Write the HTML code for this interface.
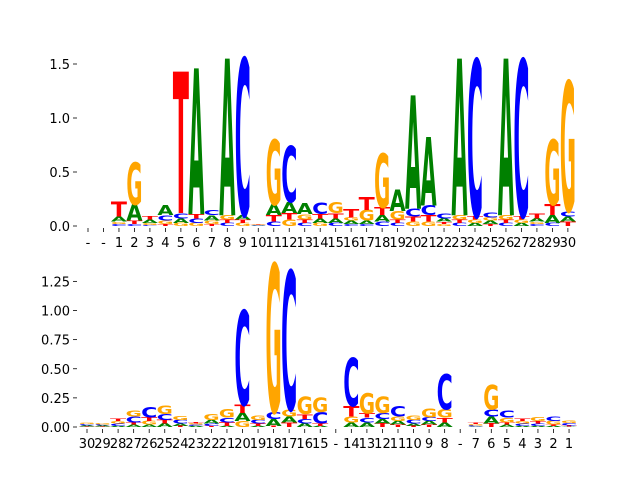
<!DOCTYPE html>
<html><head><meta charset="utf-8"><style>
body{margin:0;background:#fff;}
svg{display:block;font-family:"DejaVu Sans","Liberation Sans",sans-serif;}
</style></head><body>
<svg id="chart" width="640" height="480" viewBox="0 0 640 480">
<g id="top"></g>
<g id="bot"></g>
</svg>
<script>
// ---- Top panel data ----
const topLabels = ["-","-","1","2","3","4","5","6","7","8","9","10","11","12","13","14","15","16","17","18","19","20","21","22","23","24","25","26","27","28","29","30"];
const topA = [0,0,.05,.15,.03,.09,.04,1.35,.05,1.45,.04,.005,.10,.10,.10,.04,.04,.03,.03,.06,.20,1.05,.63,.03,1.45,.03,.03,1.45,.03,.03,.07,.05];
const topC = [0,0,.02,.02,.01,.05,.05,.04,.05,.03,1.45,.005,.04,.52,.03,.11,.03,.02,.02,.04,.03,.07,.09,.05,.03,1.45,.05,.03,1.45,.02,.03,.05];
const topG = [0,0,.02,.39,.02,.03,.03,.03,.03,.04,.03,.005,.60,.06,.05,.03,.10,.03,.10,.50,.08,.04,.04,.02,.04,.03,.03,.04,.03,.02,.60,1.20];
const topT = [0,0,.14,.03,.03,.02,1.31,.04,.02,.03,.03,.005,.06,.06,.03,.04,.05,.08,.12,.07,.03,.05,.06,.02,.03,.03,.02,.03,.03,.05,.10,.04];
const topTicks = [0,0.5,1.0,1.5];
const topTickLabels = ["0.0","0.5","1.0","1.5"];
// ---- Bottom panel data ----
const botLabels = ["30","29","28","27","26","25","24","23","22","21","20","19","18","17","16","15","-","14","13","12","11","10","9","8","-","7","6","5","4","3","2","1"];
const botA = [.01,.008,.01,.02,.02,.03,.02,.01,.03,.01,.07,.01,.06,.05,.03,.01,0,.04,.04,.04,.03,.02,.03,.04,0,.005,.06,.02,.01,.01,.01,.005];
const botC = [.01,.008,.02,.05,.09,.05,.03,.01,.02,.04,.81,.03,.06,1.19,.04,.10,0,.41,.04,.05,.09,.03,.03,.30,0,.01,.06,.06,.02,.02,.04,.02];
const botG = [.01,.008,.02,.05,.03,.07,.03,.01,.05,.07,.05,.04,1.27,.06,.15,.12,0,.05,.17,.14,.04,.04,.08,.07,0,.01,.21,.04,.02,.03,.03,.02];
const botT = [.005,.006,.02,.02,.03,.03,.01,.01,.01,.03,.07,.02,.01,.04,.04,.02,0,.09,.04,.03,.02,.01,.02,.04,0,.01,.03,.02,.02,.02,.01,.01];
const botTicks = [0,0.25,0.5,0.75,1.0,1.25];
const botTickLabels = ["0.00","0.25","0.50","0.75","1.00","1.25"];

const NS="http://www.w3.org/2000/svg";
const colors={A:"#008000",C:"#0000ff",G:"#ffa500",T:"#ff0000"};
const CAP=72.9;

function panel(g,labels,A,C,G,T,ticks,tickLabels,x0,dx,base,scale){
  const xs=i=>x0+i*dx;
  const ys=v=>base-v*scale;
  ticks.forEach((t,k)=>{
    const l=document.createElementNS(NS,"line");
    
    
    l.setAttribute("x1",73);l.setAttribute("x2",77);l.setAttribute("y1",ys(t));l.setAttribute("y2",ys(t));
    l.setAttribute("stroke","#000");l.setAttribute("stroke-width","0.8");g.appendChild(l);
    const tx=document.createElementNS(NS,"text");
    
    
    tx.setAttribute("x",70);tx.setAttribute("y",ys(t)+5);tx.setAttribute("text-anchor","end");
    tx.setAttribute("font-size","13");tx.textContent=tickLabels[k];g.appendChild(tx);
  });
  labels.forEach((lab,i)=>{
    const x=xs(i);
    const l=document.createElementNS(NS,"line");
    
    
    l.setAttribute("x1",x);l.setAttribute("x2",x);l.setAttribute("y1",base+2);l.setAttribute("y2",base+6);
    l.setAttribute("stroke","#000");l.setAttribute("stroke-width","0.8");g.appendChild(l);
    const tx=document.createElementNS(NS,"text");
    
    
    tx.setAttribute("x",x);tx.setAttribute("y",base+21);tx.setAttribute("text-anchor","middle");
    tx.setAttribute("font-size","13");tx.textContent=lab;g.appendChild(tx);
    const stack=[["A",A[i]],["C",C[i]],["G",G[i]],["T",T[i]]].filter(s=>s[1]>0).sort((a,b)=>a[1]-b[1]);
    let cum=0;
    stack.forEach(([L,h])=>{
      const yb=ys(cum), hp=h*scale;
      cum+=h;
      if(hp<0.3)return;
      const t=document.createElementNS(NS,"text");
      
      
      t.setAttribute("x",0);t.setAttribute("y",0);
      t.setAttribute("font-size","100");t.setAttribute("font-weight","bold");
      t.setAttribute("textLength",dx*1.04);t.setAttribute("lengthAdjust","spacingAndGlyphs");
      t.setAttribute("fill",colors[L]);
      t.setAttribute("transform","translate("+(x-dx*0.52)+","+yb+") scale(1,"+(hp/CAP)+")");
      t.textContent=L;g.appendChild(t);
    });
  });
}
panel(document.getElementById("top"),topLabels,topA,topC,topG,topT,topTicks,topTickLabels,88,15.48,226,108);
panel(document.getElementById("bot"),botLabels,botA,botC,botG,botT,botTicks,botTickLabels,87,15.55,427,116.5);
</script>
</body></html>
